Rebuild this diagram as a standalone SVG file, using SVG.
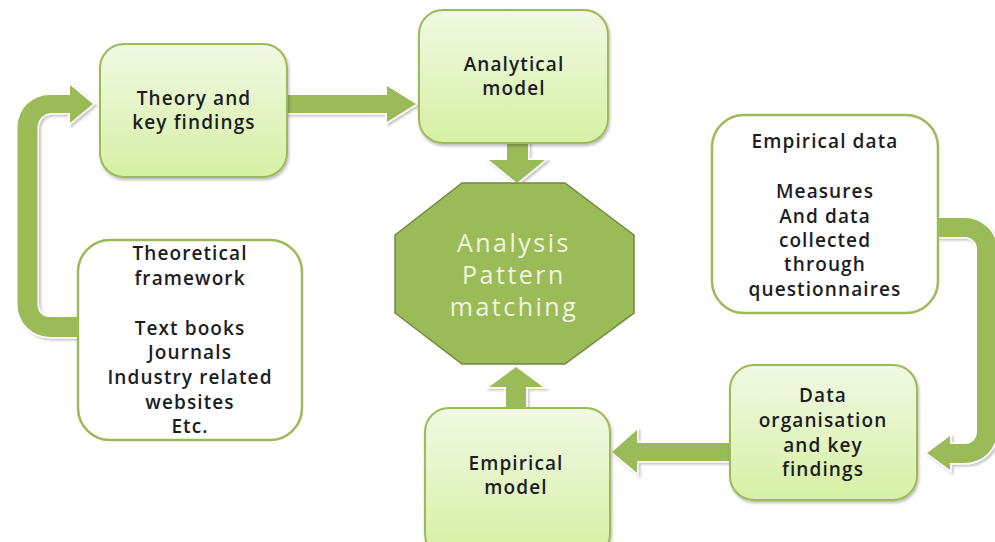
<svg xmlns="http://www.w3.org/2000/svg" width="995" height="542" viewBox="0 0 995 542">
  <defs>
    <linearGradient id="boxFill" x1="0" y1="0" x2="0" y2="1">
      <stop offset="0" stop-color="#f1f9e4"/>
      <stop offset="1" stop-color="#d6f0a4"/>
    </linearGradient>
    <filter id="shadow" x="-10%" y="-10%" width="125%" height="130%">
      <feDropShadow dx="1" dy="2" stdDeviation="1.5" flood-color="#000" flood-opacity="0.28"/>
    </filter>
    <filter id="arrowShadow" x="-10%" y="-10%" width="130%" height="130%">
      <feDropShadow dx="2" dy="2" stdDeviation="1.2" flood-color="#000" flood-opacity="0.22"/>
    </filter>
  </defs>
  <style>
    .arrow { fill: #9bbb59; stroke: #ffffff; stroke-width: 3; stroke-linejoin: miter; paint-order: stroke; filter: url(#arrowShadow); }
    .box { fill: url(#boxFill); stroke: #9bbb59; stroke-width: 2; filter: url(#shadow); }
    .plain { fill: #ffffff; stroke: #9bbb59; stroke-width: 2.5; }
    .hub { fill: #9bbb59; stroke: #71893f; stroke-width: 1.5; }
    .label { font-family: "Open Sans", "Liberation Sans", sans-serif; font-size: 19px; font-weight: 600; letter-spacing: 1.1px; fill: #1c1c24; text-anchor: middle; }
    .hubLabel { font-family: "Open Sans", "Liberation Sans", sans-serif; font-size: 25px; letter-spacing: 2.5px; fill: #eef5e0; text-anchor: middle; }
  </style>

  <!-- connectors -->
  <g id="connectors">
    <!-- framework back up to theory -->
    <path class="arrow" d="M 82 337 L 50 337 A 32.5 32.5 0 0 1 17.5 304.5 L 17.5 127 A 32 32 0 0 1 49.5 95 L 70 95 L 70 85 L 93 104 L 70 123 L 70 113 L 52 113 A 14.5 14.5 0 0 0 37.5 127.5 L 37.5 305 A 12 12 0 0 0 49.5 317 L 82 317 Z"/>
    <!-- theory to analytical model -->
    <path class="arrow" d="M 287 95 L 387 95 L 387 86 L 416 104 L 387 122 L 387 113 L 287 113 Z"/>
    <!-- analytical model down to hub -->
    <path class="arrow" d="M 507 143 L 528 143 L 528 160 L 545 160 L 517 183 L 489 160 L 507 160 Z"/>
    <!-- empirical model up to hub -->
    <path class="arrow" d="M 506 410 L 526 410 L 526 387 L 543 387 L 516 367 L 489 387 L 506 387 Z"/>
    <!-- empirical data round to data organisation -->
    <path class="arrow" d="M 934 218 L 965 218 A 32 32 0 0 1 997 250 L 997 431 A 32 32 0 0 1 965 463 L 950 463 L 950 470 L 927 453 L 950 436 L 950 444 L 965 444 A 12 12 0 0 0 977 432 L 977 249 A 12 12 0 0 0 965 237 L 934 237 Z"/>
    <!-- data organisation to empirical model -->
    <path class="arrow" d="M 730 443 L 637 443 L 637 430 L 612 452 L 637 473 L 637 461 L 730 461 Z"/>
  </g>

  <g id="theory">
    <rect class="box" x="100" y="44" width="187" height="133" rx="24"/>
    <text class="label" x="194" y="105">Theory and</text>
    <text class="label" x="194" y="129">key findings</text>
  </g>

  <g id="analytical-model">
    <rect class="box" x="419" y="10" width="189" height="133" rx="24"/>
    <text class="label" x="514" y="71">Analytical</text>
    <text class="label" x="514" y="95">model</text>
  </g>

  <g id="analysis">
    <polygon class="hub" points="462,183 565,183 634,235 634,313 565,364 462,364 395,313 395,235"/>
    <text class="hubLabel" x="514" y="252">Analysis</text>
    <text class="hubLabel" x="514" y="284">Pattern</text>
    <text class="hubLabel" x="514" y="316">matching</text>
  </g>

  <g id="theoretical-framework">
    <rect class="plain" x="78" y="240" width="224" height="200" rx="32"/>
    <text class="label" x="190" y="260">Theoretical</text>
    <text class="label" x="190" y="285">framework</text>
    <text class="label" x="190" y="335">Text books</text>
    <text class="label" x="190" y="359">Journals</text>
    <text class="label" x="190" y="384">Industry related</text>
    <text class="label" x="190" y="409">websites</text>
    <text class="label" x="190" y="433">Etc.</text>
  </g>

  <g id="empirical-data">
    <rect class="plain" x="712" y="115" width="226" height="198" rx="32"/>
    <text class="label" x="825" y="148">Empirical data</text>
    <text class="label" x="825" y="198">Measures</text>
    <text class="label" x="825" y="223">And data</text>
    <text class="label" x="825" y="247">collected</text>
    <text class="label" x="825" y="271">through</text>
    <text class="label" x="825" y="296">questionnaires</text>
  </g>

  <g id="data-organisation">
    <rect class="box" x="730" y="365" width="187" height="135" rx="24"/>
    <text class="label" x="823" y="402">Data</text>
    <text class="label" x="823" y="427">organisation</text>
    <text class="label" x="823" y="452">and key</text>
    <text class="label" x="823" y="476">findings</text>
  </g>

  <g id="empirical-model">
    <rect class="box" x="425" y="408" width="185" height="150" rx="24"/>
    <text class="label" x="516" y="470">Empirical</text>
    <text class="label" x="516" y="494">model</text>
  </g>
</svg>
